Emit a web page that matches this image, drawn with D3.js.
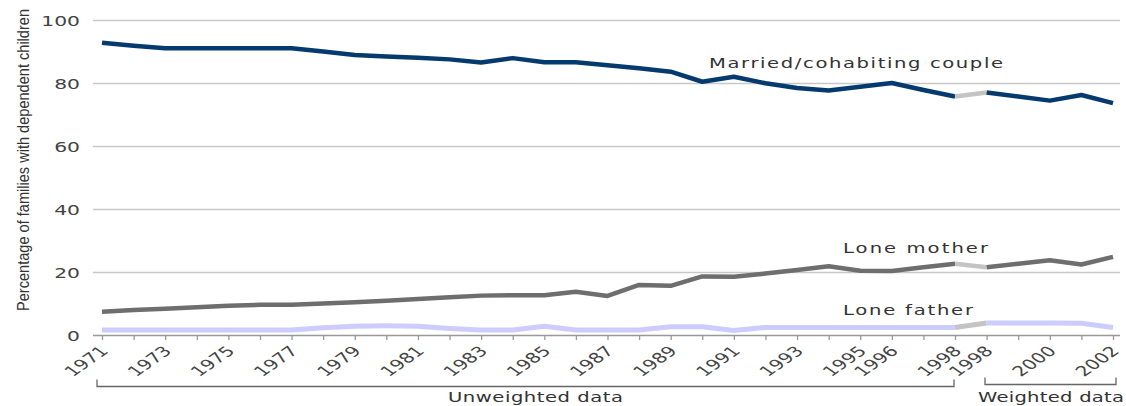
<!DOCTYPE html>
<html>
<head>
<meta charset="utf-8">
<script src="https://cdn.jsdelivr.net/npm/d3@7"></script>
<style>
  body { margin: 0; background: #fff; }
  svg { display: block; }
</style>
</head>
<body>
<div id="chart"></div>
<script>
// survey years, 1998 appears twice (unweighted then weighted)
var years = ["1971","1972","1973","1974","1975","1976","1977","1978","1979","1980",
    "1981","1982","1983","1984","1985","1986","1987","1988","1989","1990",
    "1991","1992","1993","1994","1995","1996","1997","1998","1998w","1999",
    "2000","2001","2002"];
var tickLabels = ["1971","","1973","","1975","","1977","","1979","",
    "1981","","1983","","1985","","1987","","1989","",
    "1991","","1993","","1995","1996","","1998","1998","",
    "2000","","2002"];
var married = [92.8, 91.8, 91.0, 91.0, 91.0, 91.0, 91.0, 90.0, 88.9, 88.4,
    88.0, 87.5, 86.5, 87.9, 86.6, 86.6, 85.6, 84.7, 83.6, 80.4,
    82.0, 79.9, 78.4, 77.6, 78.8, 80.0, 77.8, 75.7, 77.0, 75.7,
    74.4, 76.2, 73.6];
var loneMother = [7.4, 7.9, 8.3, 8.8, 9.3, 9.6, 9.6, 10.0, 10.4, 10.9,
    11.4, 12.0, 12.5, 12.6, 12.6, 13.7, 12.4, 15.9, 15.6, 18.6,
    18.5, 19.5, 20.6, 21.8, 20.4, 20.3, 21.5, 22.6, 21.5, 22.6,
    23.7, 22.4, 24.8];
var loneFather = [1.6, 1.6, 1.6, 1.6, 1.6, 1.6, 1.6, 2.3, 2.8, 2.9,
    2.8, 2.1, 1.6, 1.6, 2.8, 1.6, 1.6, 1.6, 2.6, 2.6,
    1.4, 2.4, 2.4, 2.4, 2.4, 2.4, 2.4, 2.4, 3.8, 3.8,
    3.8, 3.7, 2.4];
var yTicks = [0, 20, 40, 60, 80, 100];
var breakIndex = 27; // last unweighted point

var width = 1126, height = 406;
var sx = 1.45; // text in the picture is stretched sideways

var svg = d3.select("#chart").append("svg")
    .attr("width", width)
    .attr("height", height);

var x = d3.scalePoint().domain(years).range([102, 1113]);
var y = d3.scaleLinear().domain([0, 100]).range([335, 20]);
var left = 93, right = 1120;

// gridlines + y labels
var yAxis = d3.axisLeft(y).tickValues(yTicks).tickSize(-(right - left)).tickPadding(0);
var gy = svg.append("g").attr("transform", "translate(" + left + ",0)").call(yAxis);
gy.select(".domain").remove();
gy.selectAll(".tick line")
    .attr("stroke", "#c8c8c8")
    .attr("stroke-width", 1.3)
    .filter(d => d === 0).remove();
gy.selectAll(".tick text")
    .attr("x", 0).attr("dy", null)
    .attr("transform", "translate(-13,5) scale(" + sx + ",1)")
    .style("font-family", "DejaVu Sans")
    .style("font-size", "14px")
    .style("fill", "#444");

// x axis
var xAxis = d3.axisBottom(x).tickSize(5).tickSizeOuter(0).tickFormat((d, i) => tickLabels[i]);
var gx = svg.append("g").attr("transform", "translate(0,335)").call(xAxis);
gx.select(".domain").attr("d", "M" + left + ",0.5H" + right).attr("stroke", "#999").attr("stroke-width", 1.3);
gx.selectAll(".tick line").attr("stroke", "#999").attr("stroke-width", 1.3);
gx.selectAll(".tick text")
    .attr("x", 0).attr("y", 0).attr("dy", null)
    .style("text-anchor", "end")
    .attr("transform", "translate(7,17) scale(" + sx + ",1) rotate(-45)")
    .style("font-family", "DejaVu Sans")
    .style("font-size", "14px")
    .style("fill", "#444");

// lines, split at the weighting change
function drawSeries(values, color, width) {
    var pts = values.map((v, i) => [x(years[i]), y(v)]);
    var line = d3.line();
    svg.append("path").attr("d", line(pts.slice(0, breakIndex + 1)))
        .attr("fill", "none").attr("stroke", color).attr("stroke-width", width)
        .attr("stroke-linejoin", "round");
    svg.append("path").attr("d", line(pts.slice(breakIndex, breakIndex + 2)))
        .attr("fill", "none").attr("stroke", "#c4c4c4").attr("stroke-width", width);
    svg.append("path").attr("d", line(pts.slice(breakIndex + 1)))
        .attr("fill", "none").attr("stroke", color).attr("stroke-width", width)
        .attr("stroke-linejoin", "round");
}
drawSeries(loneFather, "#ccccff", 5);
drawSeries(loneMother, "#6e6e6e", 4.5);
drawSeries(married, "#053a6e", 4.5);

function label(txt, px, py, size, len) {
    var t = svg.append("text")
        .attr("transform", "translate(" + px + "," + py + ") scale(" + sx + ",1)")
        .style("font-family", "DejaVu Sans")
        .style("font-size", size + "px")
        .style("fill", "#333")
        .text(txt);
    if (len) t.attr("textLength", len / sx).attr("lengthAdjust", "spacing");
    return t;
}
label("Married/cohabiting couple", 709, 68, 13.5, 294);
label("Lone mother", 843, 253, 13.5, 145);
label("Lone father", 843, 315, 13.5, 130);
label("Unweighted data", 448, 402, 13.5, 175);
label("Weighted data", 978, 402, 13.5, 146);

// y title
svg.append("text")
    .attr("transform", "translate(29,160) scale(" + sx + ",1) rotate(-90)")
    .attr("text-anchor", "middle")
    .attr("textLength", 302).attr("lengthAdjust", "spacingAndGlyphs")
    .style("font-family", "Liberation Sans")
    .style("font-size", "12px")
    .style("fill", "#333")
    .text("Percentage of families with dependent children");

// brackets under the year labels
function bracket(x0, x1, yb) {
    svg.append("path")
        .attr("d", "M" + x0 + "," + (yb - 7) + "V" + yb + "H" + x1 + "V" + (yb - 7))
        .attr("fill", "none").attr("stroke", "#666").attr("stroke-width", 1.3);
}
bracket(97, 954, 386.5);
bracket(985, 1116, 384.5);
</script>
</body>
</html>
